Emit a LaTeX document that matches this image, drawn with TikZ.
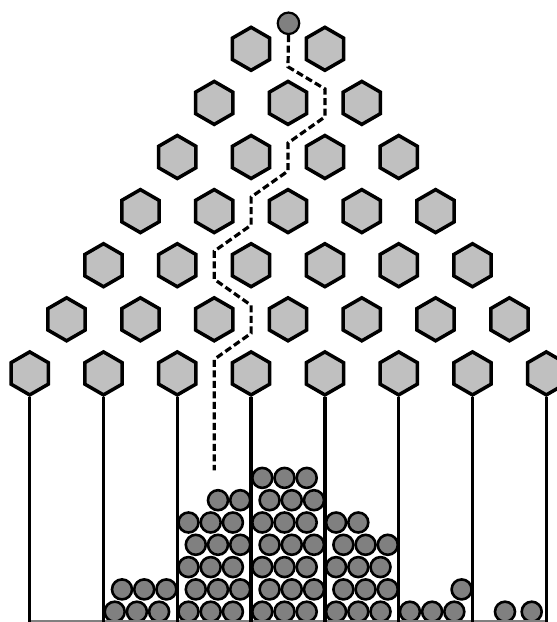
\documentclass[tikz,border=0pt]{standalone}
\usetikzlibrary{shapes.geometric, calc}
\definecolor{pegfill}{HTML}{C0C0C0}
\definecolor{ballfill}{HTML}{808080}

\begin{document}
\begin{tikzpicture}[
    x=1pt, y=-1pt,
    peg/.style={draw, regular polygon, regular polygon sides=6, shape border rotate=30, minimum size=43pt, inner sep=0pt, fill=pegfill, line width=3.5pt},
    marble/.style={draw, circle, minimum size=20pt, inner sep=0pt, fill=ballfill, line width=2.6pt},
    wall/.style={line width=3.5pt},
    floor/.style={draw=gray, line width=1.5pt},
    trail/.style={line width=3.2pt, dash pattern=on 7pt off 3.5pt}
]
\useasboundingbox (0,0) rectangle (557,622);

% Pegs: row r holds r+1 hexagons
\foreach \r in {1,...,7} {
  \foreach \i in {0,...,\r} {
    \node[peg] (p\r-\i) at ({288+(\i-\r/2)*73.8}, {48.8+(\r-1)*54.1}) {};
  }
}

% Falling ball
\node[marble, minimum size=21.5pt, line width=2.2pt] (drop) at (288.5,23.3) {};

% Collected balls: bin/row/columns
\foreach \b/\j/\cols in {2/0/{0,1,2}, 2/1/{0,1,2},
    3/0/{0,1,2}, 3/1/{0,1,2}, 3/2/{0,1,2}, 3/3/{0,1,2}, 3/4/{0,1,2}, 3/5/{1,2},
    4/0/{0,1,2}, 4/1/{0,1,2}, 4/2/{0,1,2}, 4/3/{0,1,2}, 4/4/{0,1,2}, 4/5/{0,1,2}, 4/6/{0,1,2},
    5/0/{0,1,2}, 5/1/{0,1,2}, 5/2/{0,1,2}, 5/3/{0,1,2}, 5/4/{0,1},
    6/0/{0,1,2}, 6/1/{2}} {
  \foreach \c in \cols {
    \node[marble] (m\b-\j-\c) at ({29.7+(\b-1)*73.8+11.2+22.2*\c+7.3*mod(\j,2)}, {611.7-22.3*\j}) {};
  }
}
\node[marble] (m7-0-0) at (505,611.7) {};
\node[marble] (m7-0-1) at (531.7,611.7) {};

% Floor and bin walls
\coordinate (floor-l) at (29.7,621);
\coordinate (floor-r) at (546.3,621);
\coordinate (base) at (0,622);
\draw[floor] (floor-l) -- (floor-r);
\foreach \i in {0,...,7} {
  \draw[wall] (p7-\i.south) -- (p7-\i.south |- base);
}

% Path of the ball
\coordinate (g1) at ($(p1-0)!.5!(p1-1)$);
\coordinate (g2) at ($(p2-1)!.5!(p2-2)$);
\coordinate (g3) at ($(p3-1)!.5!(p3-2)$);
\coordinate (g4) at ($(p4-1)!.5!(p4-2)$);
\coordinate (g5) at ($(p5-1)!.5!(p5-2)$);
\coordinate (g6) at ($(p6-2)!.5!(p6-3)$);
\coordinate (g7) at ($(p7-2)!.5!(p7-3)$);
\coordinate (trail-end) at ($(g7)+(0,97)$);
\draw[trail] (drop.south) -- ($(g1)+(0,18)$)
  -- ($(g2)+(0,-14)$) -- ($(g2)+(0,14)$)
  -- ($(g3)+(0,-14)$) -- ($(g3)+(0,14)$)
  -- ($(g4)+(0,-14)$) -- ($(g4)+(0,14)$)
  -- ($(g5)+(0,-14)$) -- ($(g5)+(0,14)$)
  -- ($(g6)+(0,-14)$) -- ($(g6)+(0,14)$)
  -- ($(g7)+(0,-14)$) -- (trail-end);

\end{tikzpicture}
\end{document}
